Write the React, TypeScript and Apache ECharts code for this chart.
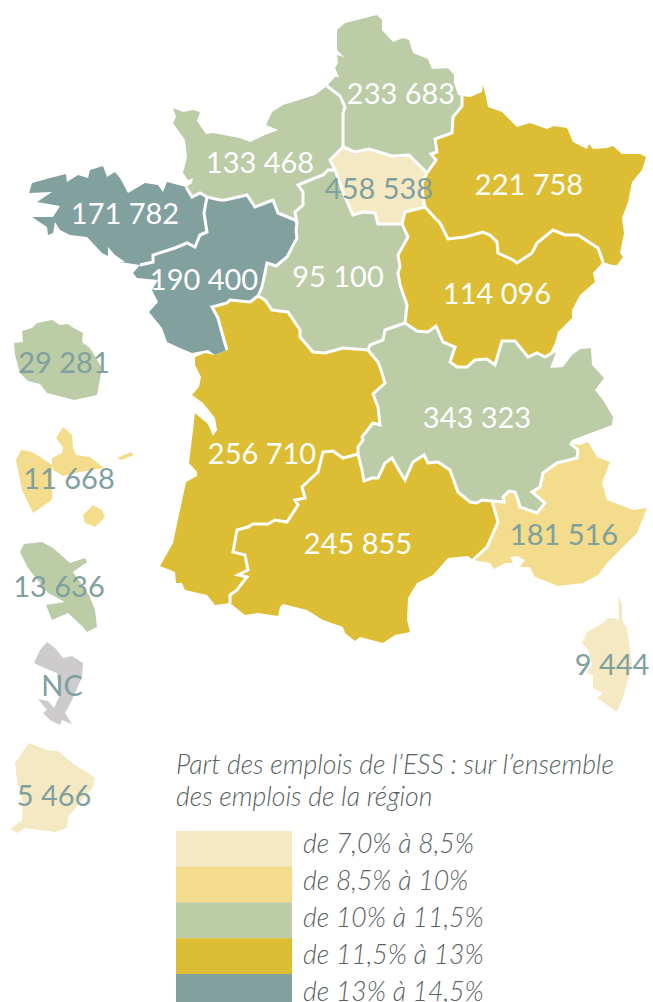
import React, { useEffect, useRef } from "react";
import * as echarts from "echarts";

type P = [number, number];
const rev = (a: P[]): P[] => [...a].reverse();

// Shared borders and coasts, in map units
const hdfCoast: P[] = [[327,86],[335,77],[339,77],[335,68],[338,63],[337,55],[344,57],[337,50],[337,30],[345,23],[377,15],[382,20],[382,30],[393,42],[403,38],[409,40],[413,53],[428,59],[432,69],[448,68],[454,75],[454,83],[458,95],[462,96]];
const hdfGe: P[] = [[462,96],[462,106],[453,117],[452,133],[435,139],[437,152],[431,154],[436,160],[427,173]];
const hdfIdf: P[] = [[427,173],[409,155],[392,156],[369,149],[355,152],[343,147]];
const hdfNor: P[] = [[343,147],[343,135],[343,113],[345,107],[340,96],[327,86]];
const idfNor: P[] = [[343,147],[330,160],[335,170]];
const idfCvl: P[] = [[335,170],[345,197],[353,215],[363,212],[375,213],[378,224],[402,224]];
const idfBfc: P[] = [[402,224],[405,212],[425,207]];
const idfGe: P[] = [[425,207],[423,197],[422,183],[427,173]];
const norCoast: P[] = [[327,86],[315,95],[283,105],[272,112],[266,125],[278,130],[265,135],[250,142],[240,138],[213,133],[206,134],[197,121],[200,112],[193,110],[183,112],[173,108],[176,117],[173,123],[185,140],[187,157],[183,173],[188,180],[193,178],[192,183],[186,187]];
const norBre: P[] = [[186,187],[192,197],[200,193],[207,197]];
const norPdl: P[] = [[207,197],[220,200],[225,200],[247,195],[255,207],[273,200],[278,213],[295,220],[297,223]];
const norCvl: P[] = [[297,223],[295,212],[303,205],[303,192],[298,185],[315,178],[323,175],[328,170],[335,170]];
const breCoast: P[] = [[186,187],[167,182],[163,192],[158,185],[145,183],[128,193],[120,178],[115,172],[107,177],[103,166],[90,170],[88,178],[78,175],[67,182],[66,174],[50,178],[43,180],[32,183],[29,193],[52,192],[37,202],[60,206],[53,217],[32,217],[47,227],[48,235],[53,233],[55,222],[60,230],[70,235],[87,237],[102,253],[108,256],[108,247],[115,255],[125,262],[120,262],[140,265]];
const brePdl: P[] = [[140,265],[153,262],[153,255],[175,248],[187,243],[195,247],[200,235],[207,232],[204,213],[207,197]];
const pdlCoast: P[] = [[140,265],[133,273],[137,278],[158,280],[152,290],[158,302],[149,312],[162,328],[167,342],[180,348],[192,353],[208,350],[215,355],[227,350]];
const pdlNa: P[] = [[227,350],[224,340],[218,318],[212,307],[227,303],[230,300],[250,302],[258,296]];
const pdlCvl: P[] = [[258,296],[262,287],[267,263],[276,266],[287,257],[297,238],[296,230],[297,223]];
const cvlBfc: P[] = [[402,224],[408,237],[398,255],[400,267],[398,273],[400,285],[407,305],[405,323]];
const cvlAra: P[] = [[405,323],[385,330],[383,340],[370,345],[368,350]];
const cvlNa: P[] = [[368,350],[343,348],[325,353],[313,352],[300,337],[300,330],[288,312],[272,310],[265,300],[258,296]];
const naCoast: P[] = [[227,350],[215,355],[205,353],[195,357],[195,365],[201,377],[199,387],[192,395],[203,403],[215,418],[217,430],[213,436],[208,424],[195,413],[189,463],[197,472],[197,476],[186,482],[173,543],[160,566],[175,572],[176,583],[182,583],[185,590],[207,595],[215,605],[230,603]];
const naOcc: P[] = [[230,603],[230,595],[237,590],[247,577],[238,575],[248,570],[245,555],[233,552],[237,530],[248,527],[253,524],[268,524],[275,520],[287,522],[298,505],[295,500],[305,498],[302,487],[318,472],[323,452],[333,451],[343,458],[358,454]];
const naAra: P[] = [[358,454],[358,447],[363,440],[362,437],[373,423],[380,425],[378,407],[373,394],[385,383],[381,370],[378,362],[368,350]];
const occCoast: P[] = [[230,603],[245,615],[258,613],[278,616],[280,607],[283,604],[307,610],[323,620],[343,627],[345,633],[355,641],[360,637],[383,643],[395,635],[410,632],[407,620],[408,598],[417,583],[433,575],[448,558],[468,556],[473,560]];
const occPaca: P[] = [[473,560],[487,547],[498,522],[492,501]];
const occAra: P[] = [[492,501],[482,500],[477,503],[470,502],[458,492],[450,470],[438,462],[428,463],[424,455],[413,462],[405,480],[400,472],[392,458],[385,463],[378,478],[372,478],[364,481],[362,470],[358,454]];
const araBfc: P[] = [[405,323],[417,331],[428,332],[436,326],[443,342],[455,347],[450,362],[457,367],[467,367],[475,360],[487,359],[495,365],[502,341],[515,341],[528,357],[537,353],[545,357],[557,350]];
const araEast: P[] = [[557,350],[550,368],[563,367],[572,355],[580,349],[591,348],[592,365],[604,378],[595,390],[603,400],[613,417],[612,425],[572,440],[570,443]];
const araPaca: P[] = [[570,443],[578,450],[577,458],[557,463],[543,473],[540,487],[532,492],[545,503],[537,513],[520,507],[518,500],[515,492],[509,491],[503,497],[504,502],[492,501]];
const pacaCoast: P[] = [[473,560],[490,563],[494,569],[505,563],[513,563],[510,557],[517,556],[525,560],[520,567],[530,567],[535,577],[558,586],[583,583],[598,575],[607,563],[637,533],[647,508],[633,510],[607,500],[602,483],[610,462],[597,457],[588,442],[580,445],[570,443]];
const bfcEast: P[] = [[557,350],[550,353],[555,343],[558,332],[572,318],[572,310],[580,295],[595,282],[593,273],[603,262]];
const geBfc: P[] = [[425,207],[435,218],[440,223],[448,239],[465,237],[483,232],[490,235],[497,242],[498,253],[513,260],[517,263],[532,253],[537,243],[553,230],[565,235],[578,235],[598,248],[603,262]];
const geTop: P[] = [[462,96],[470,97],[482,92],[483,85],[486,97],[488,107],[502,112],[517,127],[530,123],[547,129],[554,126],[567,128],[573,142],[587,149],[589,144],[593,149],[607,148],[613,146],[622,154],[640,154],[646,157],[642,170],[632,182],[628,202],[622,218],[624,233],[620,253],[623,257],[617,265],[612,265],[603,262]];
const innerBorders: P[][] = [hdfGe,hdfIdf,hdfNor,idfNor,idfCvl,idfBfc,idfGe,norBre,norPdl,norCvl,brePdl,pdlNa,pdlCvl,cvlBfc,cvlAra,cvlNa,naOcc,naAra,occPaca,occAra,araBfc,araPaca,geBfc];

// Overseas outlines
const reunion: P[] = [[14,343],[23,342],[22,331],[32,328],[37,323],[52,320],[60,325],[68,324],[72,327],[83,333],[82,342],[90,348],[102,368],[97,395],[74,400],[47,393],[40,384],[28,381],[20,373],[15,355]];
const basseTerre: P[] = [[16,460],[21,450],[32,452],[42,458],[52,465],[52,500],[33,513],[22,490]];
const grandeTerre: P[] = [[52,465],[52,458],[62,453],[63,447],[56,438],[63,427],[72,435],[73,448],[76,455],[90,457],[104,468],[80,472],[63,476],[53,470]];
const desirade: P[] = [[117,458],[131,452],[134,455],[121,460]];
const marieGalante: P[] = [[83,515],[93,505],[102,510],[105,517],[95,527],[85,523]];
const martinique: P[] = [[20,552],[24,544],[42,542],[53,548],[70,563],[85,558],[87,562],[73,572],[89,595],[95,610],[97,627],[87,632],[83,627],[68,613],[52,620],[46,605],[65,602],[48,593],[28,568]];
const mayotte: P[] = [[34,663],[40,650],[47,642],[55,648],[63,658],[72,656],[83,663],[82,677],[72,700],[65,713],[72,724],[62,720],[60,725],[50,720],[43,713],[47,710],[38,699],[48,701],[54,708],[59,697],[57,673],[42,667]];
const guyane: P[] = [[15,763],[29,743],[47,750],[58,751],[75,765],[87,772],[95,778],[93,787],[68,817],[67,828],[55,832],[25,828],[17,833],[10,829],[22,820],[23,802],[17,780]];
const corse: P[] = [[618,597],[622,603],[622,620],[627,628],[632,665],[623,697],[617,712],[597,698],[603,693],[593,688],[593,675],[587,673],[592,665],[588,650],[582,643],[587,632],[603,623],[608,618],[619,619]];

// Values
const regionNames = ["Hauts-de-France","Normandie","Île-de-France","Grand Est","Bretagne","Pays de la Loire","Centre-Val de Loire","Bourgogne-Franche-Comté","Nouvelle-Aquitaine","Auvergne-Rhône-Alpes","Occitanie","Provence-Alpes-Côte d'Azur","Corse","La Réunion","Guadeloupe","Martinique","Mayotte","Guyane"];
const jobLabels = ["233 683","133 468","458 538","221 758","171 782","190 400","95 100","114 096","256 710","343 323","245 855","181 516","9 444","29 281","11 668","13 636","NC","5 466"];
const shares = [10.5,10.6,8.0,11.9,13.7,13.6,10.8,12.1,12.2,10.8,12.4,9.5,8.2,10.9,9.4,10.8,NaN,8.1];
const labelPoints: P[] = [[401,92],[260,161],[379,187],[529,183],[125,212],[204,278],[338,275],[497,292],[262,452],[477,416],[358,542],[564,533],[612,663],[64,361],[69,477],[59,585],[62,684],[54,794]];
const darkLabelRegions = ["Île-de-France","Provence-Alpes-Côte d'Azur","Corse","La Réunion","Guadeloupe","Martinique","Mayotte","Guyane"];

const rings: P[][][] = [
  [[...hdfCoast,...hdfGe,...hdfIdf,...hdfNor]],
  [[...norCoast,...norBre,...norPdl,...norCvl,...rev(idfNor),...hdfNor]],
  [[...hdfIdf,...idfNor,...idfCvl,...idfBfc,...idfGe]],
  [[...geTop,...rev(geBfc),...idfGe,...rev(hdfGe)]],
  [[...breCoast,...brePdl,...rev(norBre)]],
  [[...pdlCoast,...pdlNa,...pdlCvl,...rev(norPdl),...rev(brePdl)]],
  [[...cvlBfc,...cvlAra,...cvlNa,...pdlCvl,...norCvl,...idfCvl]],
  [[...rev(idfBfc),...cvlBfc,...araBfc,...bfcEast,...rev(geBfc)]],
  [[...naCoast,...naOcc,...naAra,...cvlNa,...rev(pdlNa)]],
  [[...araBfc,...araEast,...araPaca,...occAra,...naAra,...rev(cvlAra)]],
  [[...occCoast,...occPaca,...occAra,...rev(naOcc)]],
  [[...pacaCoast,...araPaca,...rev(occPaca)]],
  [corse],
  [reunion],
  [basseTerre,grandeTerre,desirade,marieGalante],
  [martinique],
  [mayotte],
  [guyane],
];

// Legend
const classLabels = ["de 7,0% à 8,5%","de 8,5% à 10%","de 10% à 11,5%","de 11,5% à 13%","de 13% à 14,5%"];
const classMins = [7,8.5,10,11.5,13];
const classMaxs = [8.5,10,11.5,13,14.5];
const classColors = ["#f4e9c3","#f3dc8b","#bbcca7","#dcbd33","#81a09e"];
const legendTitle = "Part des emplois de l’ESS : sur l’ensemble\ndes emplois de la région";

export default function App() {
  const ref = useRef<HTMLDivElement>(null);
  useEffect(() => {
    document.body.style.margin = "0";
    const chart = echarts.init(ref.current!, undefined, { renderer: "svg" });
    const geoJson = {
      type: "FeatureCollection",
      features: regionNames.map((name, i) => ({
        type: "Feature",
        properties: { name, cp: labelPoints[i] },
        geometry: { type: "MultiPolygon", coordinates: rings[i].map((r) => [r]) },
      })),
    };
    echarts.registerMap("france", geoJson as any);
    const all = rings.flat(2);
    const xs = all.map((p) => p[0]);
    const ys = all.map((p) => p[1]);
    const minX = Math.min(...xs), maxX = Math.max(...xs), minY = Math.min(...ys), maxY = Math.max(...ys);
    const layout = {
      map: "france",
      projection: { project: (p: number[]) => p, unproject: (p: number[]) => p },
      left: minX,
      top: minY,
      width: maxX - minX,
      height: maxY - minY,
      silent: true,
      selectedMode: false,
      emphasis: { disabled: true },
    };
    const font = { fontFamily: "Lato" };
    chart.setOption({
      animation: false,
      title: {
        text: legendTitle,
        left: 176,
        top: 748,
        padding: 0,
        textStyle: { ...font, fontSize: 26.6, fontStyle: "italic", fontWeight: 300, color: "#59635f", lineHeight: 32 },
      },
      visualMap: {
        show: false,
        type: "piecewise",
        dimension: 0,
        seriesIndex: 0,
        pieces: classLabels.map((label, i) => ({ label, gte: classMins[i], lt: classMaxs[i], color: classColors[i] })),
      },
      geo: {
        ...layout,
        itemStyle: { areaColor: "transparent", borderWidth: 0 },
        label: { show: false },
      },
      series: [
        {
          ...layout,
          type: "map",
          itemStyle: { areaColor: "#cdcbcc", borderWidth: 0 },
          label: {
            show: true,
            ...font,
            fontSize: 29,
            fontWeight: 400,
            color: "#ffffff",
            formatter: (p: any) => p.data.jobs,
          },
          data: regionNames.map((name, i) => ({
            name,
            value: shares[i],
            jobs: jobLabels[i],
            label: { color: darkLabelRegions.includes(name) ? "#7fa09e" : "#ffffff" },
          })),
        },
        {
          type: "lines",
          coordinateSystem: "geo",
          polyline: true,
          silent: true,
          lineStyle: { color: "#ffffff", width: 3, opacity: 1, curveness: 0 },
          data: innerBorders.map((coords) => ({ coords })),
        },
      ],
      graphic: [
        ...classLabels.map((_, i) => ({
          type: "rect",
          silent: true,
          shape: { x: 176, y: 831 + i * 35.75, width: 116, height: 36 },
          style: { fill: classColors[i] },
        })),
        ...classLabels.map((label, i) => ({
          type: "text",
          silent: true,
          x: 303,
          y: 843 + i * 37,
          style: { text: label, ...font, fontSize: 26.6, fontStyle: "italic", fontWeight: 300, fill: "#59635f", verticalAlign: "middle" },
        })),
      ],
    });
    return () => chart.dispose();
  }, []);
  return <div ref={ref} style={{ width: 653, height: 1002, overflow: "hidden" }} />;
}
